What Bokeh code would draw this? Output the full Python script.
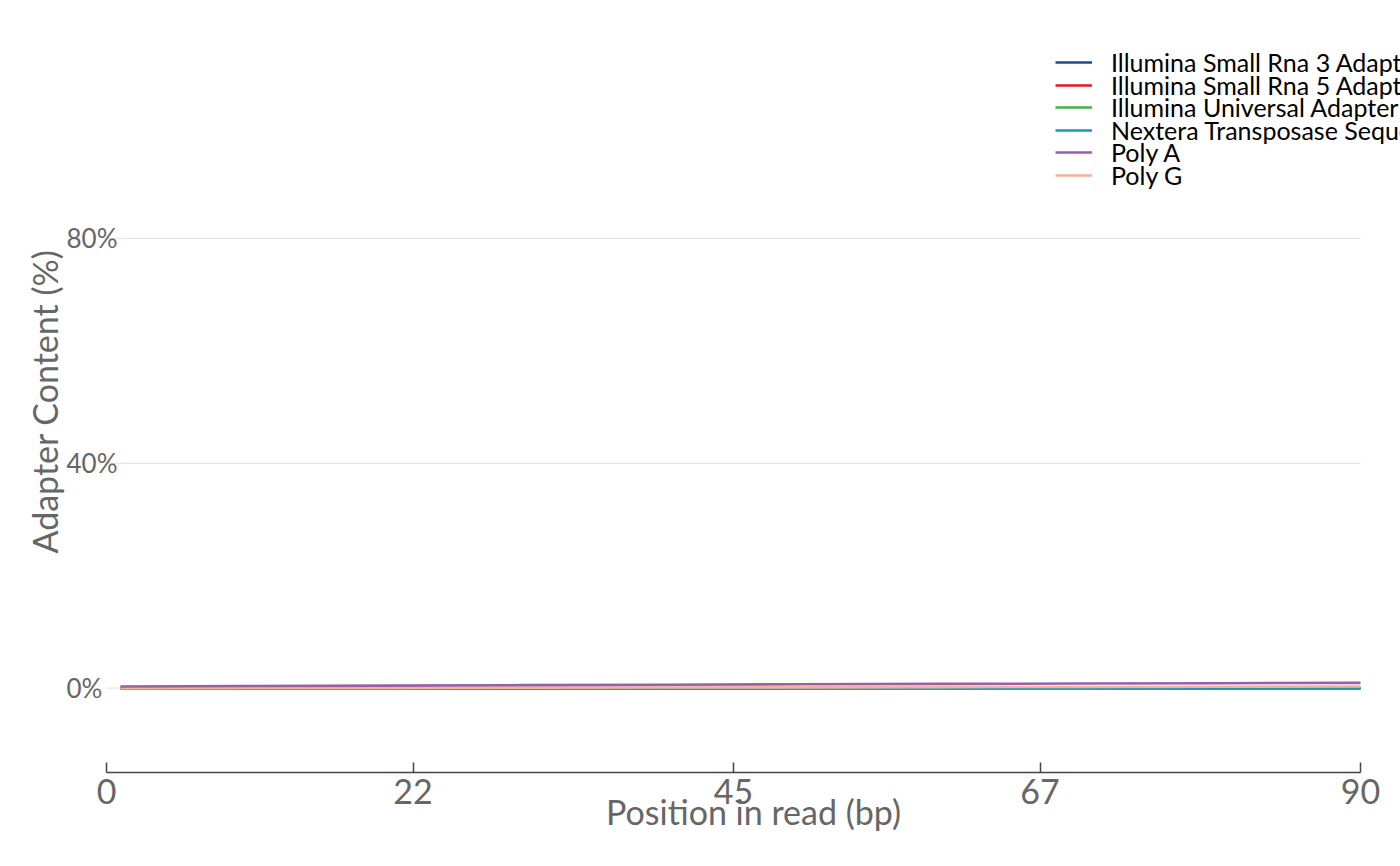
from bokeh.plotting import figure
from bokeh.models import Range1d, FixedTicker, Legend, LegendItem
from bokeh.embed import file_html
from bokeh.resources import INLINE

positions = [1, 10, 20, 30, 40, 50, 60, 70, 80, 90]
series_names = ["Illumina Small Rna 3 Adapter", "Illumina Small Rna 5 Adapter",
                "Illumina Universal Adapter", "Nextera Transposase Sequence",
                "Poly A", "Poly G"]
small_rna3 = [0, 0, 0, 0, 0, 0, 0, 0, 0, 0]
small_rna5 = [0, 0, 0, 0, 0, 0, 0, 0, 0, 0]
universal = [0, 0, 0, 0, 0, 0, 0, 0, 0, 0]
nextera = [0, 0, 0, 0.01, 0.01, 0.02, 0.02, 0.03, 0.03, 0.04]
poly_a = [0.3, 0.38, 0.46, 0.54, 0.62, 0.7, 0.76, 0.82, 0.89, 0.95]
poly_g = [0.0, 0.03, 0.06, 0.09, 0.12, 0.15, 0.18, 0.22, 0.26, 0.3]
colors = ["#124e9c", "#e3191c", "#45b045", "#1699b8", "#9a5ea8", "#f9b196"]
x_ticks = [0, 22, 45, 67, 90]
y_ticks = [0, 40, 80]
y_tick_labels = ["0%\u2007", "40%", "80%"]

FONT = "Lato"
GRAY = "#666666"

x_lo, x_hi = x_ticks[0], x_ticks[-1]
p = figure(width=1400, height=866, output_backend="svg", toolbar_location=None,
           x_range=Range1d(x_lo, x_hi * 1294 / 1254), y_range=Range1d(-15, 117),
           min_border_left=106, min_border_right=0, min_border_top=30,
           min_border_bottom=94)
p.outline_line_color = None
p.background_fill_color = "white"
p.border_fill_color = "white"

# x axis
xa = p.xaxis[0]
xa.ticker = FixedTicker(ticks=x_ticks)
xa.bounds = (x_lo, x_hi)
xa.axis_line_color = "#444444"
xa.axis_line_width = 1.5
xa.major_tick_line_color = "#444444"
xa.major_tick_line_width = 1.5
xa.major_tick_in = 10
xa.major_tick_out = 0
xa.minor_tick_line_color = None
xa.major_label_text_font = FONT
xa.major_label_text_font_size = "34px"
xa.major_label_text_color = GRAY
xa.major_label_standoff = 6
xa.axis_label = "Position in read (bp)"
xa.axis_label_text_font = FONT
xa.axis_label_text_font_style = "normal"
xa.axis_label_text_font_size = "34px"
xa.axis_label_text_color = GRAY
xa.axis_label_standoff = -16

# y axis
ya = p.yaxis[0]
ya.ticker = FixedTicker(ticks=y_ticks)
ya.axis_line_color = None
ya.major_tick_line_color = None
ya.major_tick_out = 0
ya.major_tick_in = 0
ya.minor_tick_line_color = None
ya.major_label_overrides = {t: s for t, s in zip(y_ticks, y_tick_labels)}
ya.major_label_text_font = FONT
ya.major_label_text_font_size = "26px"
ya.major_label_text_color = GRAY
ya.major_label_standoff = -11
ya.axis_label = "Adapter Content (%)"
ya.axis_label_text_font = FONT
ya.axis_label_text_font_style = "normal"
ya.axis_label_text_font_size = "34px"
ya.axis_label_text_color = GRAY
ya.axis_label_standoff = -1

p.xgrid.grid_line_color = None
p.ygrid.grid_line_color = None
# horizontal grid lines at the y ticks, spanning the x-axis bounds
p.segment(x0=[x_lo] * len(y_ticks), x1=[x_hi] * len(y_ticks), y0=y_ticks, y1=y_ticks,
          line_color="#e6e6e6", line_width=1.2, level="underlay")

series = [small_rna3, small_rna5, universal, nextera, poly_a, poly_g]
order = [0, 1, 2, 3, 5, 4]
renderers = {}
for idx in order:
    renderers[idx] = p.line(positions, series[idx], line_color=colors[idx], line_width=2.6)

# one legend per entry so the row pitch can be tighter than the font's line box
row0 = 62.0
pitch = 22.6
box_h = 30
for i in range(6):
    lg = Legend(items=[LegendItem(label=series_names[i], renderers=[renderers[i]])],
                location=(949, 772 - (row0 + pitch * i) - box_h / 2))
    lg.border_line_color = None
    lg.background_fill_alpha = 0
    lg.padding = 0
    lg.margin = 0
    lg.spacing = 0
    lg.glyph_width = 37
    lg.glyph_height = box_h
    lg.label_height = box_h
    lg.label_standoff = 19
    lg.label_text_font = FONT
    lg.label_text_font_size = "25px"
    lg.label_text_color = "black"
    p.add_layout(lg, "center")

open("out.html", "w").write(file_html(p, INLINE))
